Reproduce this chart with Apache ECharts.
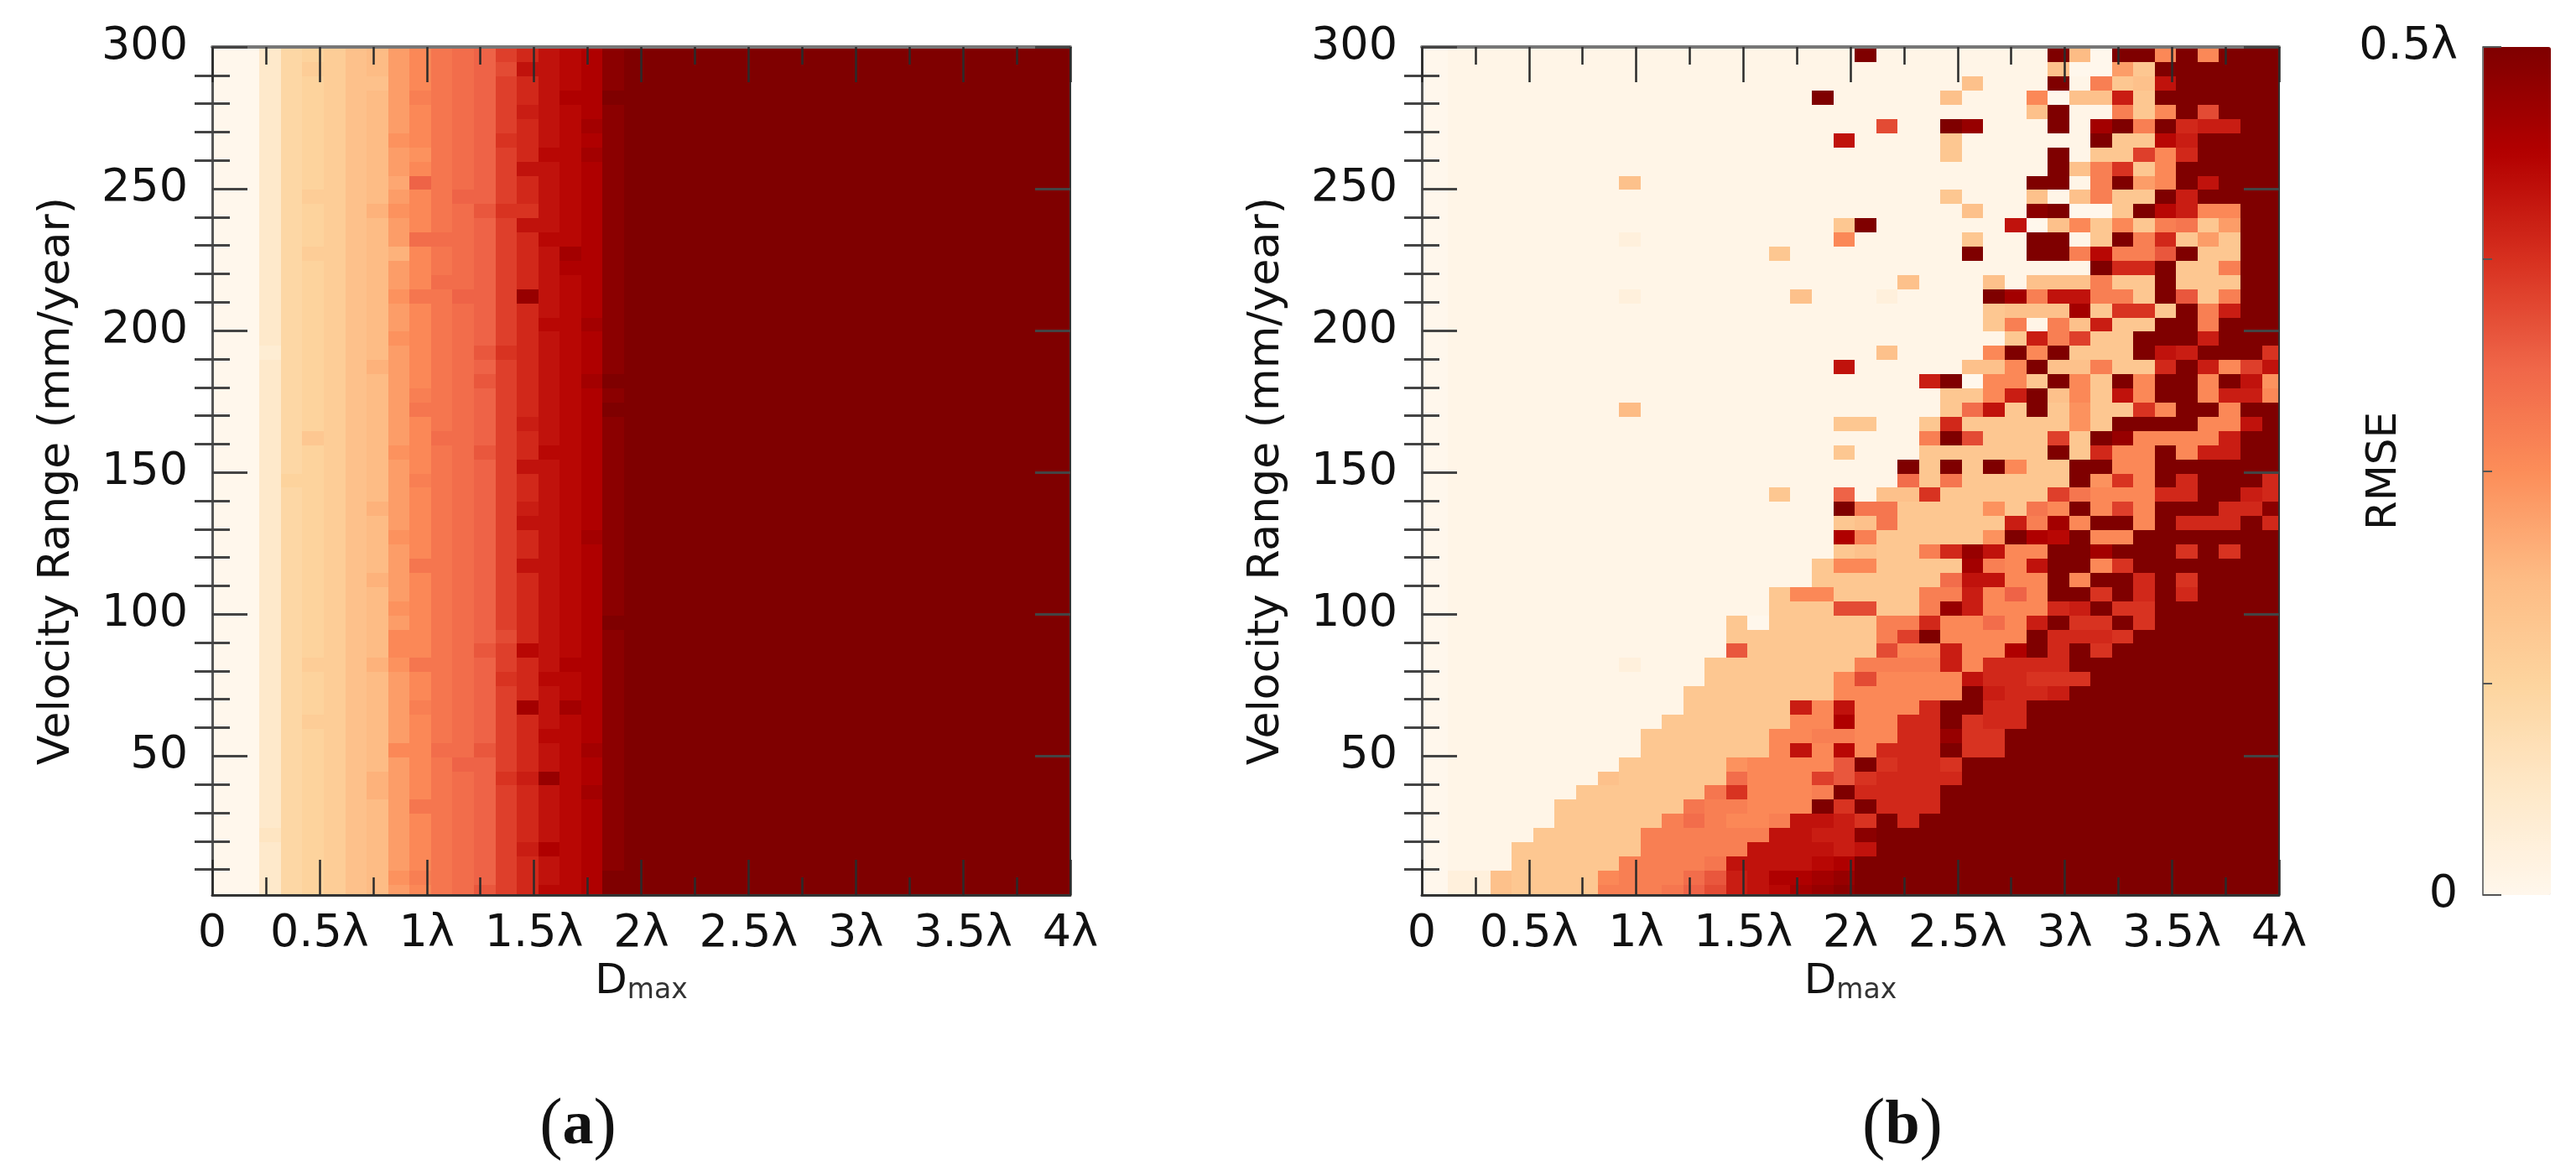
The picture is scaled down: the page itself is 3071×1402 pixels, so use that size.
<!DOCTYPE html>
<html>
<head>
<meta charset="utf-8">
<title>RMSE vs Dmax and velocity range</title>
<script src="https://cdn.jsdelivr.net/npm/echarts@6/dist/echarts.min.js"></script>
<style>
  html, body { margin: 0; background: #fff; }
  #chart { width: 3071px; height: 1402px; }
</style>
</head>
<body>
<div id="chart"></div>
<script>
// RMSE cells. One string per velocity row (top row first),
// one base-36 digit per Dmax column: 0 = 0 RMSE, z = 0.5 lambda.
// Columns missing at the end of a row are saturated (z).
const rowsA = [
  '00489acdgiklmprtuvyz', '0048aacdgiklmottuvyz', '00489accgiklmprtuvyz', '00489acdgjklmprtvvzz',
  '00489acdgiklmpstuvyz', '00489acdgiklmprtuwyz', '00489acdhiklmqrtuvyz', '00489acdghklmpruuwyz',
  '00489acdgiklmpttuvyz', '00489acdfmklmprtuvyz', '0048aacdgikmmprtuvyz', '00489acehiklnqqtuvyz',
  '00489acdgiklmpttuvyz', '00489acdglllmpruuvyz', '0048aacdeiklmprtwvyz', '00489acdgiklmprtvvyz',
  '00489acdgillmprtuvyz', '00489acdhkkmmpxtuvyz', '00489acdgiklmprtuvyz', '00489acdgiklmpruuwyz',
  '00489acdhiklmprtuvyz', '00389acdgiklnqrtuvyz', '00489acegiklmprtuvyz', '00489acdgiklnprtuwzz',
  '00489acdgjklmprtuvyz', '00489acdgkklmprtuvzz', '00489acdgiklmpstuvyz', '0048bacdgillmprtuvyz',
  '00489acdhiklnpruuvyz', '00489acdgiklmpttuvyz', '00499acdgjklmprtuvyz', '00489acdgiklmprtuvyz',
  '00489acegiklmpstuvyz', '00489acdgiklmpttuvyz', '00489acdhiklmprtuwyz', '00489acdgiklmprtuvyz',
  '00489acdgkklmpttuvyz', '00489acegiklmprtuvyz', '00489acdgiklmprtuvyz', '00489acdhiklmprtuvyz',
  '00489acdgiklmprtuvzz', '00489acdiiklmortuvyz', '00489acdiiklnputuvyz', '0048aacehkklmprtvvyz',
  '00489acdgiklmqruuvyz', '00489acdgiklmprtuvyz', '00489acdgjklmpwtwvyz', '0048aacdgiklmprtuvyz',
  '00489acdgiklmpruuvyz', '00489acdiillnprtuwyz', '00489acdgikmmprtuvyz', '00489acegiklmqsxuvyz',
  '00489acegiklmprtuwyz', '00489acdgkklmprtuvyz', '00489acdgiklmprtuvyz', '00589acdgiklmprtuvyz',
  '00489acdgiklmpsvuvyz', '00489acdgiklmprtuvyz', '00489acdhjklmprtuvzz', '00489acdgiklnpruuvzz',
]
const rowsB = [
  '01111111111111111111' + 'z11111111zd0zzizizzz',
  '01111111111111111111' + '111111111c00gbzzzzzz',
  '01111111111111111111' + '11111c111z1jbctzzzzz',
  '011111111111111111z1' + '1111c111i0ccsbzzzzzz',
  '01111111111111111111' + '11111111cz11jbizozzz',
  '01111111111111111111' + '1o11zx111z1wzjzrsszz',
  '0111111111111111111t' + '1111b111111zbbuszzzz',
  '01111111111111111111' + '1111b1111z1bbpirzzzz',
  '01111111111111111111' + '111111111zcjqbizzzzz',
  '011111111c1111111111' + '11111111zz1jzgiztzzz',
  '01111111111111111111' + '1111b111c1cjbbzszzzz',
  '01111111111111111111' + '11111c11yz00bzusiizz',
  '0111111111111111111b' + 'z111111t0cibibjkbgzz',
  '0111111112111111111i' + '11111b11zz1bzjrbgbzz',
  '0111111111111111b111' + '11111z11zzjujjnzbbzz',
  '01111111111111111111' + '11111111111zrrzbbjzz',
  '01111111111111111111' + '11c111c1cccjbbzbbbzz',
  '01111111121111111c11' + '121111zwjttjjbznbjzz',
  '01111111111111111111' + '111111bcccwbqqbzjszz',
  '01111111111111111111' + '111111bj1jcsbbzzjzzz',
  '01111111111111111111' + '1111111bsjpbbzzzszzz',
  '01111111111111111111' + '1c1111izizbbbztszzzq',
  '0111111111111111111t' + '11111ccizccjbbrzsipt',
  '01111111111111111111' + '111sz0iibzibzizzizth',
  '01111111111111111111' + '1111bbiszcibtizzissi',
  '011111111d1111111111' + '1111bltbzbhbbqizzizz',
  '0111111111111111111b' + 'b11brbbbbbhbzzzziitz',
  '01111111111111111111' + '111jzobbbpbzxiiiiszz',
  '0111111111111111111b' + '111bbbbbbzbriizisszz',
  '01111111111111111111' + '11zbzbzibbzziizzzzzz',
  '01111111111111111111' + '11lbkbbbbbzhqizrzzzr',
  '0111111111111111b11m' + '1ccqbbbbbpkiiirrzzsr',
  '0111111111111111111z' + 'kkbbbbhbkizipizzzrry',
  '0111111111111111111b' + 'ckbbbbbsjwizzizrrrzr',
  '0111111111111111111v' + 'jbbbbbhzvuziizzzzzzz',
  '0111111111111111111b' + 'cbbjrxtiizzwzzzqzqzz',
  '011111111111111111bi' + 'ibbbbwjitzziqzzzzzzz',
  '011111111111111111bb' + 'bbbblttiizizzrzqzzzz',
  '0111111111111111biib' + 'bbbjjsimizzqzrzrzzzz',
  '0111111111111111bbbo' + 'obbjxsiiirszqqzzzzzz',
  '01111111111111b0bbbb' + 'bjjriiliszqqzqzzzzzz',
  '01111111111111bbbbbb' + 'bjpziiiizrrrqzzzzzzz',
  '01111111111111nbbbbb' + 'boiisiivzrzqzzzzzzzz',
  '0111111112111bbbbbbb' + 'jjjjsirrrrzzzzzzzzzz',
  '0111111111111bbbbbbi' + 'oiiiitrrqqqzzzzzzzzz',
  '011111111111bbbbbbbi' + 'iiiiizsrrszzzzzzzzzz',
  '011111111111bbbbbsit' + 'iiirzzrrzzzzzzzzzzzz',
  '01111111111bbbbbbiiv' + 'iirrzqrrzzzzzzzzzzzz',
  '0111111111bbbbbbiijj' + 'iirrxqqzzzzzzzzzzzzz',
  '0111111111bbbbbbitiu' + 'irrrzqqzzzzzzzzzzzzz',
  '011111111bbbbbhiiiin' + 'zqrrqzzzzzzzzzzzzzzz',
  '01111111cbbbbbliiipn' + 'qrrrrzzzzzzzzzzzzzzz',
  '0111111bbbbbbkqiiijz' + 'rrrrzzzzzzzzzzzzzzzz',
  '011111bbbbbbkjjiiizq' + 'zrrrzzzzzzzzzzzzzzzz',
  '011111bbbbbjljiijtts' + 'qzrzzzzzzzzzzzzzzzzz',
  '01111bbbbbjjjjjjttss' + 'yzzzzzzzzzzzzzzzzzzz',
  '0111bbbbbbjjjjjtttts' + 'tzzzzzzzzzzzzzzzzzzz',
  '0111bbbbbjjjjkttttuv',
  '022cbbbbijjjlnstvvwx',
  '022cbbbbjjjkmostuwxy',
]

const xTickLabels = ['0', '0.5λ', '1λ', '1.5λ', '2λ', '2.5λ', '3λ', '3.5λ', '4λ']
const yTickValues = [50, 100, 150, 200, 250, 300]
const yMinorValues = [10, 20, 30, 40, 60, 70, 80, 90, 110, 120, 130, 140, 160, 170, 180, 190, 210, 220, 230, 240, 260, 270, 280, 290]
const barTickLabels = ['0', '0.5λ']
const orRd = ['#fff7ec', '#fee8c8', '#fdd49e', '#fdbb84', '#fc8d59', '#ef6548', '#d7301f', '#b30000', '#7f0000']

const FONT = 'DejaVu Sans'
const LBL = 54
const INK = '#2b2b2b'
const COLS = 40
const PALE = 0.009 // digit 1, the near white background of panel b

// cell edges in axis units, the image sits about 0.02 lambda / 0.4 mm/yr off the tick grid
function cells(rows) {
  const out = []
  rows.forEach((row, r) => {
    const s = row.padEnd(COLS, 'z')
    for (let k = 0; k < COLS; k++) {
      const v = s[k] === '1' ? PALE : parseInt(s[k], 36) / 35 * 0.5
      out.push([
        k === 0 ? 0 : 0.02 + k * 0.1,
        k === COLS - 1 ? 4 : 0.12 + k * 0.1,
        r === 0 ? 300 : 299.6 - 5 * r,
        r === rows.length - 1 ? 1 : 294.6 - 5 * r,
        v,
      ])
    }
  })
  return out
}

function renderCell(params, api) {
  const a = api.coord([api.value(0), api.value(2)])
  const b = api.coord([api.value(1), api.value(3)])
  const x = Math.round(a[0]), y = Math.round(a[1])
  return {
    type: 'rect',
    shape: { x, y, width: Math.round(b[0]) - x, height: Math.round(b[1]) - y },
    style: { fill: api.visual('color') },
  }
}

const panels = [
  { left: 253, width: 1023, rows: rowsA },
  { left: 1695, width: 1022, rows: rowsB },
]
const BAR = { left: 2960, width: 81 }
const TOP = 56, HEIGHT = 1011

const grid = [], xAxis = [], yAxis = [], series = []
const line = (color, width) => ({ show: true, onZero: false, lineStyle: { color, width } })
const none = { show: false }

panels.forEach((p, i) => {
  grid.push({ left: p.left, top: TOP, width: p.width, height: HEIGHT })
  const xBase = { type: 'value', gridIndex: i, min: 0, max: 4, interval: 0.5, splitLine: none, z: 10 }
  const yBase = { type: 'value', gridIndex: i, min: 1, max: 300, splitLine: none, z: 10 }
  const xTick = { show: true, inside: true, length: 42, lineStyle: { color: INK, width: 2.5 } }
  const xMinor = { show: true, splitNumber: 2, length: 21, lineStyle: { color: INK, width: 2.5 } }
  const x0 = xAxis.length, y0 = yAxis.length
  xAxis.push({
    ...xBase, position: 'bottom', axisLine: line('#333', 3), axisTick: xTick, minorTick: xMinor,
    axisLabel: { margin: 20, color: '#111', fontFamily: FONT, fontSize: LBL, hideOverlap: false,
      formatter: (v, idx) => xTickLabels[idx] },
    name: '{d|D}{s|max}', nameLocation: 'middle', nameGap: 72,
    nameTextStyle: { rich: {
      d: { fontFamily: FONT, fontSize: 50, color: '#111' },
      s: { fontFamily: FONT, fontSize: 33, color: '#333', verticalAlign: 'bottom', padding: [22, 0, 0, 0] },
    } },
  }, {
    ...xBase, position: 'top', axisLine: line('#777', 4), axisTick: xTick, minorTick: xMinor, axisLabel: none,
  })
  const yTick = (length, values) => ({ show: true, inside: true, length, customValues: values, lineStyle: { color: '#444', width: 3 } })
  yAxis.push({
    ...yBase, position: 'left', axisLine: line('#555', 3), axisTick: yTick(42, yTickValues),
    axisLabel: { margin: 29, color: '#111', fontFamily: FONT, fontSize: LBL, customValues: yTickValues },
    name: 'Velocity Range (mm/year)', nameLocation: 'middle', nameGap: 159,
    nameTextStyle: { fontFamily: FONT, fontSize: 52, color: '#111', padding: [0, 24, 0, 0] },
  }, {
    ...yBase, position: 'right', axisLine: line('#333', 2), axisTick: yTick(42, yTickValues), axisLabel: none,
  }, {
    ...yBase, position: 'left', axisLine: none, axisTick: yTick(21, yMinorValues), axisLabel: none,
  }, {
    ...yBase, position: 'right', axisLine: none, axisTick: yTick(21, yMinorValues), axisLabel: none,
  })
  series.push({
    type: 'custom', xAxisIndex: x0, yAxisIndex: y0, coordinateSystem: 'cartesian2d',
    data: cells(p.rows), encode: { x: [0, 1], y: [2, 3] }, renderItem: renderCell, clip: true, silent: true,
  })
})

// colour bar: the visualMap draws the ramp, an empty grid on top of it carries ticks and labels
grid.push({ left: BAR.left, top: TOP, width: BAR.width, height: HEIGHT })
xAxis.push({ type: 'value', gridIndex: 2, min: 0, max: 1, show: false })
yAxis.push({
  type: 'value', gridIndex: 2, min: 0, max: 0.5, interval: 0.5, position: 'left', splitLine: none, z: 10,
  axisLine: line('#777', 2),
  axisTick: { show: true, inside: true, length: 22, lineStyle: { color: '#555', width: 2 } },
  minorTick: { show: true, splitNumber: 4, length: 11, lineStyle: { color: '#555', width: 2 } },
  axisLabel: { margin: 30, color: '#111', fontFamily: FONT, fontSize: LBL,
    formatter: (v, idx) => barTickLabels[idx] },
  name: 'RMSE', nameLocation: 'middle', nameGap: 92, nameMoveOverlap: false,
  nameTextStyle: { fontFamily: FONT, fontSize: 50, color: '#111' },
})

const panelTag = (letter, x) => ({
  text: '{p|(}{b|' + letter + '}{p|)}', left: x, top: 1298, textAlign: 'center',
  textStyle: { rich: {
    p: { fontFamily: 'Liberation Serif', fontSize: 82, fontWeight: 'normal', color: '#111' },
    b: { fontFamily: 'Liberation Serif', fontSize: 74, fontWeight: 'bold', color: '#111' },
  } },
})

const chart = echarts.init(document.getElementById('chart'), null, { renderer: 'canvas' })
chart.setOption({
  animation: false,
  backgroundColor: '#fff',
  title: [panelTag('a', 684), panelTag('b', 2263)],
  grid, xAxis, yAxis, series,
  visualMap: {
    type: 'continuous', seriesIndex: [0, 1], dimension: 4, min: 0, max: 0.5,
    left: BAR.left, top: TOP, itemWidth: BAR.width, itemHeight: HEIGHT,
    padding: 0, calculable: false, text: null, hoverLink: false, showLabel: false,
    inRange: { color: orRd },
  },
})
</script>
</body>
</html>
